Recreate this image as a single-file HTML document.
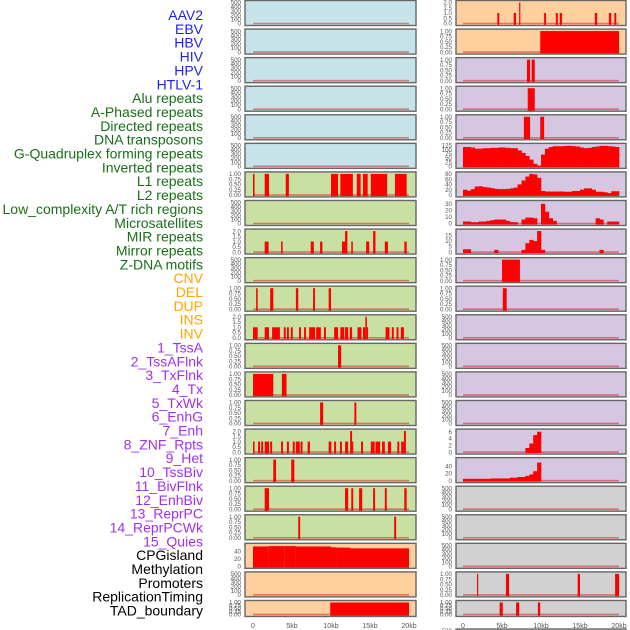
<!DOCTYPE html>
<html><head><meta charset="utf-8"><style>
html,body{margin:0;padding:0;background:#fff;}
svg{display:block;font-family:"Liberation Sans",sans-serif;}
</style></head><body>
<svg id="chart" width="630" height="630" viewBox="0 0 630 630" xmlns="http://www.w3.org/2000/svg"></svg>
<script>
const trackLabels = ["AAV2","EBV","HBV","HIV","HPV","HTLV-1","Alu repeats","A-Phased repeats","Directed repeats","DNA transposons","G-Quadruplex forming repeats","Inverted repeats","L1 repeats","L2 repeats","Low_complexity A/T rich regions","Microsatellites","MIR repeats","Mirror repeats","Z-DNA motifs","CNV","DEL","DUP","INS","INV","1_TssA","2_TssAFlnk","3_TxFlnk","4_Tx","5_TxWk","6_EnhG","7_Enh","8_ZNF_Rpts","9_Het","10_TssBiv","11_BivFlnk","12_EnhBiv","13_ReprPC","14_ReprPCWk","15_Quies","CPGisland","Methylation","Promoters","ReplicationTiming","TAD_boundary"];
const labelGroups = ["v","v","v","v","v","v","r","r","r","r","r","r","r","r","r","r","r","r","r","s","s","s","s","s","c","c","c","c","c","c","c","c","c","c","c","c","c","c","c","o","o","o","o","o"];
const xTickValues = [0,5,10,15,20];
const xTickLabels = ["0","5kb","10kb","15kb","20kb"];

// segment data: [startKb, endKb, value]
const L_L1 = [[0,0.2,1],[1.5,2.05,1],[4.2,4.6,1],[10,10.9,1],[11.2,12.8,1],[13.3,13.8,1],[14.1,14.7,1],[15.1,17.2,1],[18.2,19.7,1]];
const L_MIR = [[1.5,2.0,1],[3.6,3.8,1],[7.4,7.8,1],[8.6,8.9,1],[11.4,11.8,1],[11.8,12.1,2],[12.6,12.8,1],[14.5,14.9,1],[15.4,15.7,2],[16.9,17.3,1],[19.4,19.7,1]];
const L_ROW10 = [[0.4,0.6,1],[2.2,2.6,1],[5.5,5.8,1],[7.7,7.95,1],[9.7,10.0,1]];
const L_ROW11 = [[0.0,0.6,1],[1.5,2.05,1],[2.45,3.45,1],[3.95,4.2,1],[4.35,4.6,1],[4.85,5.1,1],[5.9,6.15,1],[6.55,6.8,1],[7.2,7.95,1],[8.1,8.7,1],[9.1,9.35,1],[10.4,10.9,1],[11.2,11.7,1],[11.8,12.2,1],[12.4,12.7,1],[13.4,13.9,1],[14.1,14.4,1],[14.4,14.6,2],[14.6,14.75,1],[17.0,17.5,1],[17.8,18.05,1],[18.4,18.65,1],[18.95,19.35,1]];
const L_ROW12 = [[10.9,11.3,1]];
const L_ROW13 = [[0,2.6,1],[3.7,4.3,1]];
const L_ROW14 = [[8.6,9.0,1],[13.0,13.25,1]];
const L_ROW15 = [[0,0.2,1],[0.65,0.9,1],[1.05,1.3,1],[1.5,2.05,1],[2.2,2.45,1],[3.6,3.85,1],[4.35,4.6,1],[5.1,5.35,1],[5.5,6.0,1],[6.1,6.35,1],[7.0,7.3,1],[9.7,10.05,1],[10.4,10.65,1],[11.15,11.4,1],[11.8,12.2,1],[12.45,12.7,2],[12.7,12.85,1],[13.85,14.1,1],[15.1,15.6,1],[15.7,16.3,1],[16.55,16.9,1],[17.3,17.7,1],[18.5,18.75,1],[19.0,19.35,1],[19.35,19.6,2]];
const L_ROW16 = [[2.6,2.95,1],[4.9,5.3,1]];
const L_ROW17 = [[1.5,2.05,1],[11.8,12.2,1],[12.6,12.85,1],[13.6,14.0,1],[15.4,15.65,1],[16.9,17.15,1],[19.4,19.7,1]];
const L_ROW18 = [[5.8,6.05,1],[18.1,18.35,1]];
const L_CPG = [[0,2,52],[2,4,53],[4,5.5,53],[5.5,10,52],[10,10.7,50],[10.7,12.5,49],[12.5,20,47]];
const L_TAD = [[9.9,20,1]];

const R_ROW0 = [[4.4,4.65,1],[6.5,6.8,1],[7.2,7.35,2],[10.4,10.65,1],[11.9,12.15,1],[12.4,12.7,1],[16.9,17.2,1],[18.7,19.0,1],[19.4,19.65,1]];
const R_ROW1 = [[9.9,20,1]];
const R_ROW2 = [[8.2,8.6,1],[8.8,9.2,1]];
const R_ROW3 = [[8.3,9.2,1]];
const R_ROW4 = [[7.8,8.6,1],[9.9,10.4,1]];
const R_ROW9 = [[5.0,7.3,1]];
const R_ROW10 = [[5.1,5.6,1]];
const R_ROW19 = [[1.8,1.95,1],[5.5,5.9,1],[14.7,15.0,1],[19.5,20.0,1]];
const R_ROW20 = [[4.7,5.1,1],[6.8,7.2,1],[9.6,9.9,1]];

// binned coverage values, 0.5kb bins from 0 to 20kb
const R_GQUAD = [115,115,112,105,105,108,108,110,110,112,112,110,108,108,95,80,62,40,15,5,70,105,115,120,120,120,122,122,120,118,112,108,110,115,118,122,122,120,118,115];
const R_L1COV = [20,16,22,32,33,30,28,26,23,22,22,23,25,28,40,55,70,80,78,65,15,13,13,13,13,13,12,12,15,15,20,25,25,20,12,12,10,7,14,14];
const R_ROW7COV = [3,3,2,2,3,3,4,5,6,6,6,4,2,2,0,6,9,9,8,0,30,18,8,4,0,0,0,0,0,0,0,0,0,0,8,6,0,3,3,3];
const R_ROW8COV = [2.5,2.5,0,0,0,0,0,0,2,0,0,0,0,0,0,2,8,11,10,19,2,0,0,0,0,0,0,0,0,0,0,0,0,0,0,2,0,0,0,0];
const R_ROW15COV = [0,0,0,0,0,0,0,0,0,0,0,0,0,0,0,0,1.2,2.5,5,6,0,0,0,0,0,0,0,0,0,0,0,0,0,0,0,0,0,0,0,0];
const R_ROW16COV = [5,5,5,5,5,5,5,6,6,6,6,6,8,8,10,10,13,17,26,50,0,0,0,0,0,0,0,0,0,0,0,0,0,0,0,0,0,0,0,0];

const T500 = [[0,"0"],[100,"100"],[200,"200"],[300,"300"],[400,"400"],[500,"500"]];
const T1 = [[0,"0.00"],[0.25,"0.25"],[0.5,"0.50"],[0.75,"0.75"],[1,"1.00"]];
const T2 = [[0,"0.0"],[0.5,"0.5"],[1,"1.0"],[1.5,"1.5"],[2,"2.0"]];

const BLUE="#c6e3ea",GREEN="#c8e0a2",ORANGE="#ffd09e",LAV="#d5c6e2",GRAY="#d1d1d1";
const leftPanels = [
 [BLUE,500,T500,null,null],[BLUE,500,T500,null,null],[BLUE,500,T500,null,null],[BLUE,500,T500,null,null],[BLUE,500,T500,null,null],[BLUE,500,T500,null,null],
 [GREEN,1,T1,L_L1,null],[GREEN,500,T500,null,null],[GREEN,2,T2,L_MIR,null],[GREEN,500,T500,null,null],[GREEN,1,T1,L_ROW10,null],[GREEN,2,T2,L_ROW11,null],
 [GREEN,1,T1,L_ROW12,null],[GREEN,1,T1,L_ROW13,null],[GREEN,1,T1,L_ROW14,null],[GREEN,2,T2,L_ROW15,null],[GREEN,1,T1,L_ROW16,null],[GREEN,1,T1,L_ROW17,null],[GREEN,1,T1,L_ROW18,null],
 [ORANGE,55,[[0,"0"],[20,"20"],[40,"40"]],L_CPG,null],[ORANGE,500,T500,null,null],[ORANGE,1,T1,L_TAD,null]
];
const rightPanels = [
 [ORANGE,2,T2,R_ROW0,null],[ORANGE,1,T1,R_ROW1,null],[LAV,1,T1,R_ROW2,null],[LAV,1,T1,R_ROW3,null],[LAV,1,T1,R_ROW4,null],
 [LAV,125,[[0,"0"],[25,"25"],[50,"50"],[75,"75"],[100,"100"],[125,"125"]],null,R_GQUAD],
 [LAV,80,[[0,"0"],[20,"20"],[40,"40"],[60,"60"],[80,"80"]],null,R_L1COV],
 [LAV,32,[[0,"0"],[10,"10"],[20,"20"],[30,"30"]],null,R_ROW7COV],
 [LAV,19,[[0,"0"],[5,"5"],[10,"10"],[15,"15"]],null,R_ROW8COV],
 [LAV,1,T1,R_ROW9,null],[LAV,1,T1,R_ROW10,null],
 [LAV,500,T500,null,null],[LAV,500,T500,null,null],[LAV,500,T500,null,null],[LAV,500,T500,null,null],
 [LAV,6.2,[[0,"0"],[2,"2"],[4,"4"],[6,"6"]],null,R_ROW15COV],
 [LAV,58,[[0,"0"],[20,"20"],[40,"40"]],null,R_ROW16COV],
 [GRAY,500,T500,null,null],[GRAY,500,T500,null,null],[GRAY,500,T500,null,null],
 [GRAY,1,T1,R_ROW19,null],[GRAY,1,T1,R_ROW20,null],[GRAY,500,T500,null,null]
];

const svg=document.getElementById('chart');
const NS="http://www.w3.org/2000/svg";
function mk(tag,attrs,parent){const e=document.createElementNS(NS,tag);for(const k in attrs)e.setAttribute(k,attrs[k]);(parent||svg).appendChild(e);return e;}

const colorMap={v:"#1f1fee",r:"#1a6e1a",s:"#ffa500",c:"#a030f0",o:"#000000"};
trackLabels.forEach((t,i)=>{
  const tx=mk('text',{x:203,y:15+i*13.85+5,'text-anchor':'end','font-size':'14',fill:colorMap[labelGroups[i]]});
  
  
  tx.textContent=t;
});

function drawColumn(panels,x0,x1,dataX0,side){
  const xs=kb=>dataX0+kb*7.8;
  panels.forEach((p,i)=>{
    const [fill,ymax,ticks,segs,bins]=p;
    const top=0.5+i*28.57; const h=(i===21)?16:25; const bot=top+h;
    const g=mk('g',{});
    
    
    const r=mk('rect',{x:x0,y:top,width:x1-x0,height:h,fill:fill,stroke:'#666',"stroke-width":1.4},g);
    
    
    const ys=v=>bot-2-v/ymax*(h-4);
    // baseline
    const bl=mk('line',{x1:xs(0),x2:xs(20),y1:ys(0),y2:ys(0),stroke:'rgba(210,0,0,0.45)','stroke-width':1.6},g);
    
    
    if(segs){segs.forEach(s=>{
      const b=mk('rect',{x:xs(s[0]),y:ys(s[2]),width:Math.max(1.2,xs(s[1])-xs(s[0])),height:bot-0.7-ys(s[2]),fill:'#ff0000'},g);
      
      
    });}
    if(bins){bins.forEach((v,k)=>{ if(v<=0)return;
      const b=mk('rect',{x:xs(k*0.5),y:ys(v),width:xs(0.5)-xs(0)+0.3,height:ys(0)+1-ys(v),fill:'#ff0000'},g);
      
      
    });}
    ticks.forEach(t=>{
      const tl=mk('text',{x:x0-4,y:ys(t[0])+2.2,'text-anchor':'end','font-size':'6.2',fill:'#555'},g);
      
      
      tl.textContent=t[1];
    });
  });
  xTickValues.forEach((v,k)=>{
    const t=mk('text',{x:xs(v),y:628,'text-anchor':'middle','font-size':'7',fill:'#555'});
    
    
    t.textContent=xTickLabels[k];
  });
}
drawColumn(leftPanels,245,416,253,'left');
drawColumn(rightPanels,456,626,463,'right');
</script>
</body></html>
